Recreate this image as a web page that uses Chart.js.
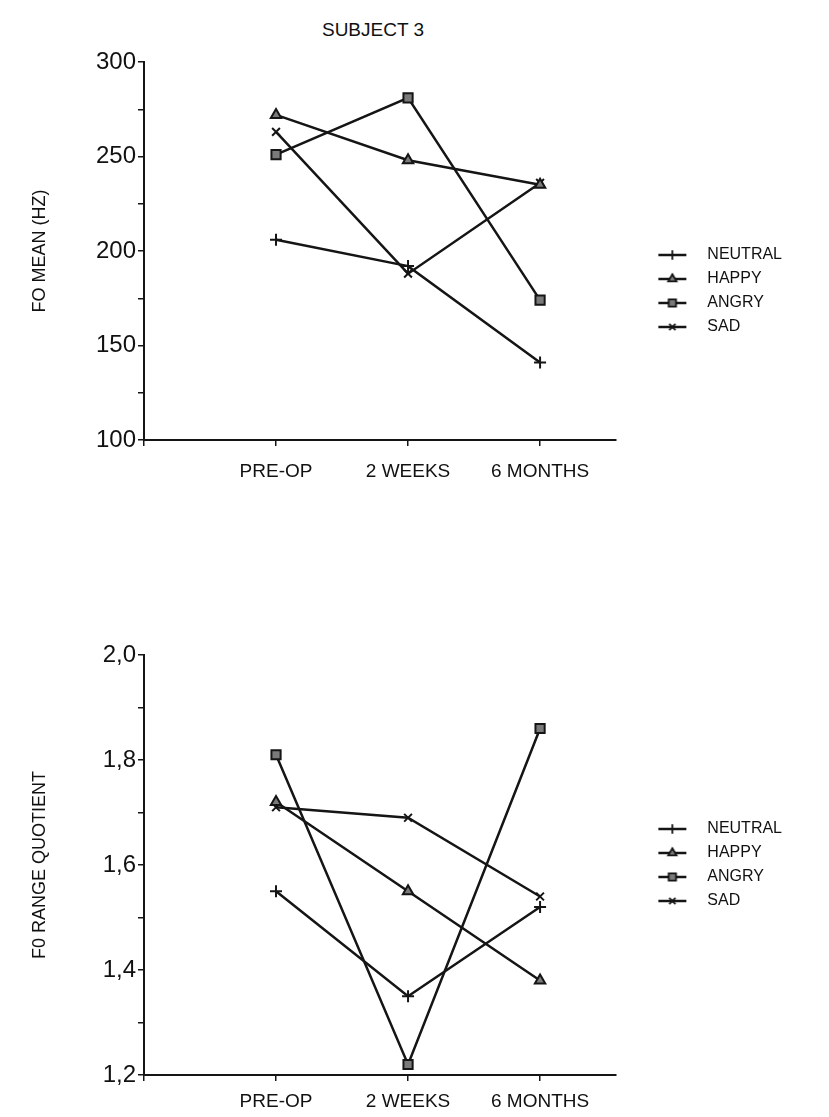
<!DOCTYPE html>
<html>
<head>
<meta charset="utf-8">
<script src="https://cdn.jsdelivr.net/npm/chart.js@4.4.1/dist/chart.umd.min.js"></script>
<style>
  html, body { margin: 0; padding: 0; background: #fff; }
  body { width: 829px; height: 1117px; position: relative; overflow: hidden;
         font-family: "Liberation Sans", Arial, sans-serif; }
  #title { position: absolute; left: 273px; width: 200px; top: 19px; text-align: center;
           font-size: 19px; color: #111; }
  .box { position: absolute; left: 0; width: 829px; }
</style>
</head>
<body>
<div id="title">SUBJECT 3</div>
<div class="box" style="top:0;height:520px"><canvas id="meanChart"></canvas></div>
<div class="box" style="top:540px;height:577px"><canvas id="rangeChart"></canvas></div>
<script>
const categories = ['PRE-OP', '2 WEEKS', '6 MONTHS'];
const emotions = ['NEUTRAL', 'HAPPY', 'ANGRY', 'SAD'];
const markers = ['cross', 'triangle', 'rect', 'crossRot'];

// F0 mean (Hz)
const meanNeutral = [206, 192, 141];
const meanHappy   = [272, 248, 235];
const meanAngry   = [251, 281, 174];
const meanSad     = [263, 188, 236];
const meanTicks      = [100, 125, 150, 175, 200, 225, 250, 275, 300];
const meanTickLabels = ['100', '', '150', '', '200', '', '250', '', '300'];

// F0 range quotient
const rangeNeutral = [1.55, 1.35, 1.52];
const rangeHappy   = [1.72, 1.55, 1.38];
const rangeAngry   = [1.81, 1.22, 1.86];
const rangeSad     = [1.71, 1.69, 1.54];
const rangeTicks      = [1.2, 1.3, 1.4, 1.5, 1.6, 1.7, 1.8, 1.9, 2.0];
const rangeTickLabels = ['1,2', '', '1,4', '', '1,6', '', '1,8', '', '2,0'];

const ink = '#151515';
const markFill = '#7a7a7a';
const family = '"Liberation Sans", Arial, sans-serif';
const radii = [6, 6, 6.5, 5.5];

// little "line + marker" pictures for the legend
function legendSymbol(style, radius) {
  const c = document.createElement('canvas');
  c.width = 76; c.height = 16;
  const ctx = c.getContext('2d');
  ctx.strokeStyle = ink;
  ctx.lineWidth = 2.5;
  ctx.beginPath(); ctx.moveTo(35, 8); ctx.lineTo(63, 8); ctx.stroke();
  ctx.fillStyle = markFill;
  ctx.lineWidth = 1.8;
  Chart.helpers.drawPoint(ctx, { pointStyle: style, radius: radius * 0.8, borderWidth: 1.8, rotation: 0 }, 49, 8);
  return c;
}
const legendImages = markers.map((m, i) => legendSymbol(m, radii[i]));

function makeChart(id, series, ticks, tickLabels, yTitle, opts) {
  const datasets = series.map((vals, i) => ({
    label: emotions[i],
    data: vals.map((v, j) => ({ x: j + 1, y: v })),
    borderColor: ink,
    borderWidth: 2.5,
    backgroundColor: markFill,
    pointStyle: markers[i],
    pointRadius: radii[i],
    pointBorderWidth: 2,
    pointBorderColor: ink,
    pointBackgroundColor: markFill,
    tension: 0
  }));

  return new Chart(document.getElementById(id), {
    type: 'line',
    data: { datasets },
    options: {
      responsive: true,
      maintainAspectRatio: false,
      animation: false,
      layout: { padding: opts.padding },
      plugins: {
        tooltip: { enabled: false },
        legend: {
          position: 'right',
          fullSize: opts.legendFull,
          labels: {
            usePointStyle: true,
            pointStyleWidth: 76,
            padding: 8,
            color: '#111',
            font: { family, size: 16 },
            generateLabels: chart => chart.data.datasets.map((ds, i) => ({
              text: ds.label,
              pointStyle: legendImages[i],
              fillStyle: 'rgba(0,0,0,0)',
              strokeStyle: 'rgba(0,0,0,0)',
              lineWidth: 0,
              fontColor: '#111',
              hidden: false,
              datasetIndex: i
            }))
          }
        }
      },
      scales: {
        x: {
          type: 'linear',
          min: 0,
          max: 3.57,
          afterFit: s => { s.height = opts.xHeight; },
          afterBuildTicks: s => { s.ticks = [0, 1, 2, 3].map(v => ({ value: v })); },
          ticks: {
            autoSkip: false,
            maxRotation: 0,
            padding: opts.xPad,
            color: '#111',
            font: { family, size: 19 },
            callback: (v, i) => (i === 0 ? '' : categories[i - 1])
          },
          grid: { drawOnChartArea: false, drawTicks: true, tickLength: 6, color: ink, lineWidth: 1.5 },
          border: { display: true, color: ink, width: 2 }
        },
        y: {
          min: ticks[0],
          max: ticks[ticks.length - 1],
          afterFit: s => { s.width = 144; },
          afterBuildTicks: s => { s.ticks = ticks.map(v => ({ value: v })); },
          ticks: {
            autoSkip: false,
            padding: 2,
            color: '#111',
            font: { family, size: 24 },
            callback: (v, i) => tickLabels[i]
          },
          grid: { drawOnChartArea: false, drawTicks: true, tickLength: 6, color: ink, lineWidth: 1.5 },
          border: { display: true, color: ink, width: 2 },
          title: {
            display: true,
            text: yTitle,
            color: '#111',
            font: { family, size: 18 },
            padding: { top: 29, bottom: 0 }
          }
        }
      }
    }
  });
}

makeChart('meanChart', [meanNeutral, meanHappy, meanAngry, meanSad], meanTicks, meanTickLabels,
  'FO MEAN (HZ)', { padding: { top: 62, right: 37, bottom: 0, left: 0 }, legendFull: true, xHeight: 80, xPad: 14 });

makeChart('rangeChart', [rangeNeutral, rangeHappy, rangeAngry, rangeSad], rangeTicks, rangeTickLabels,
  'F0 RANGE QUOTIENT', { padding: { top: 115, right: 37, bottom: 0, left: 0 }, legendFull: false, xHeight: 42, xPad: 9 });
</script>
</body>
</html>
